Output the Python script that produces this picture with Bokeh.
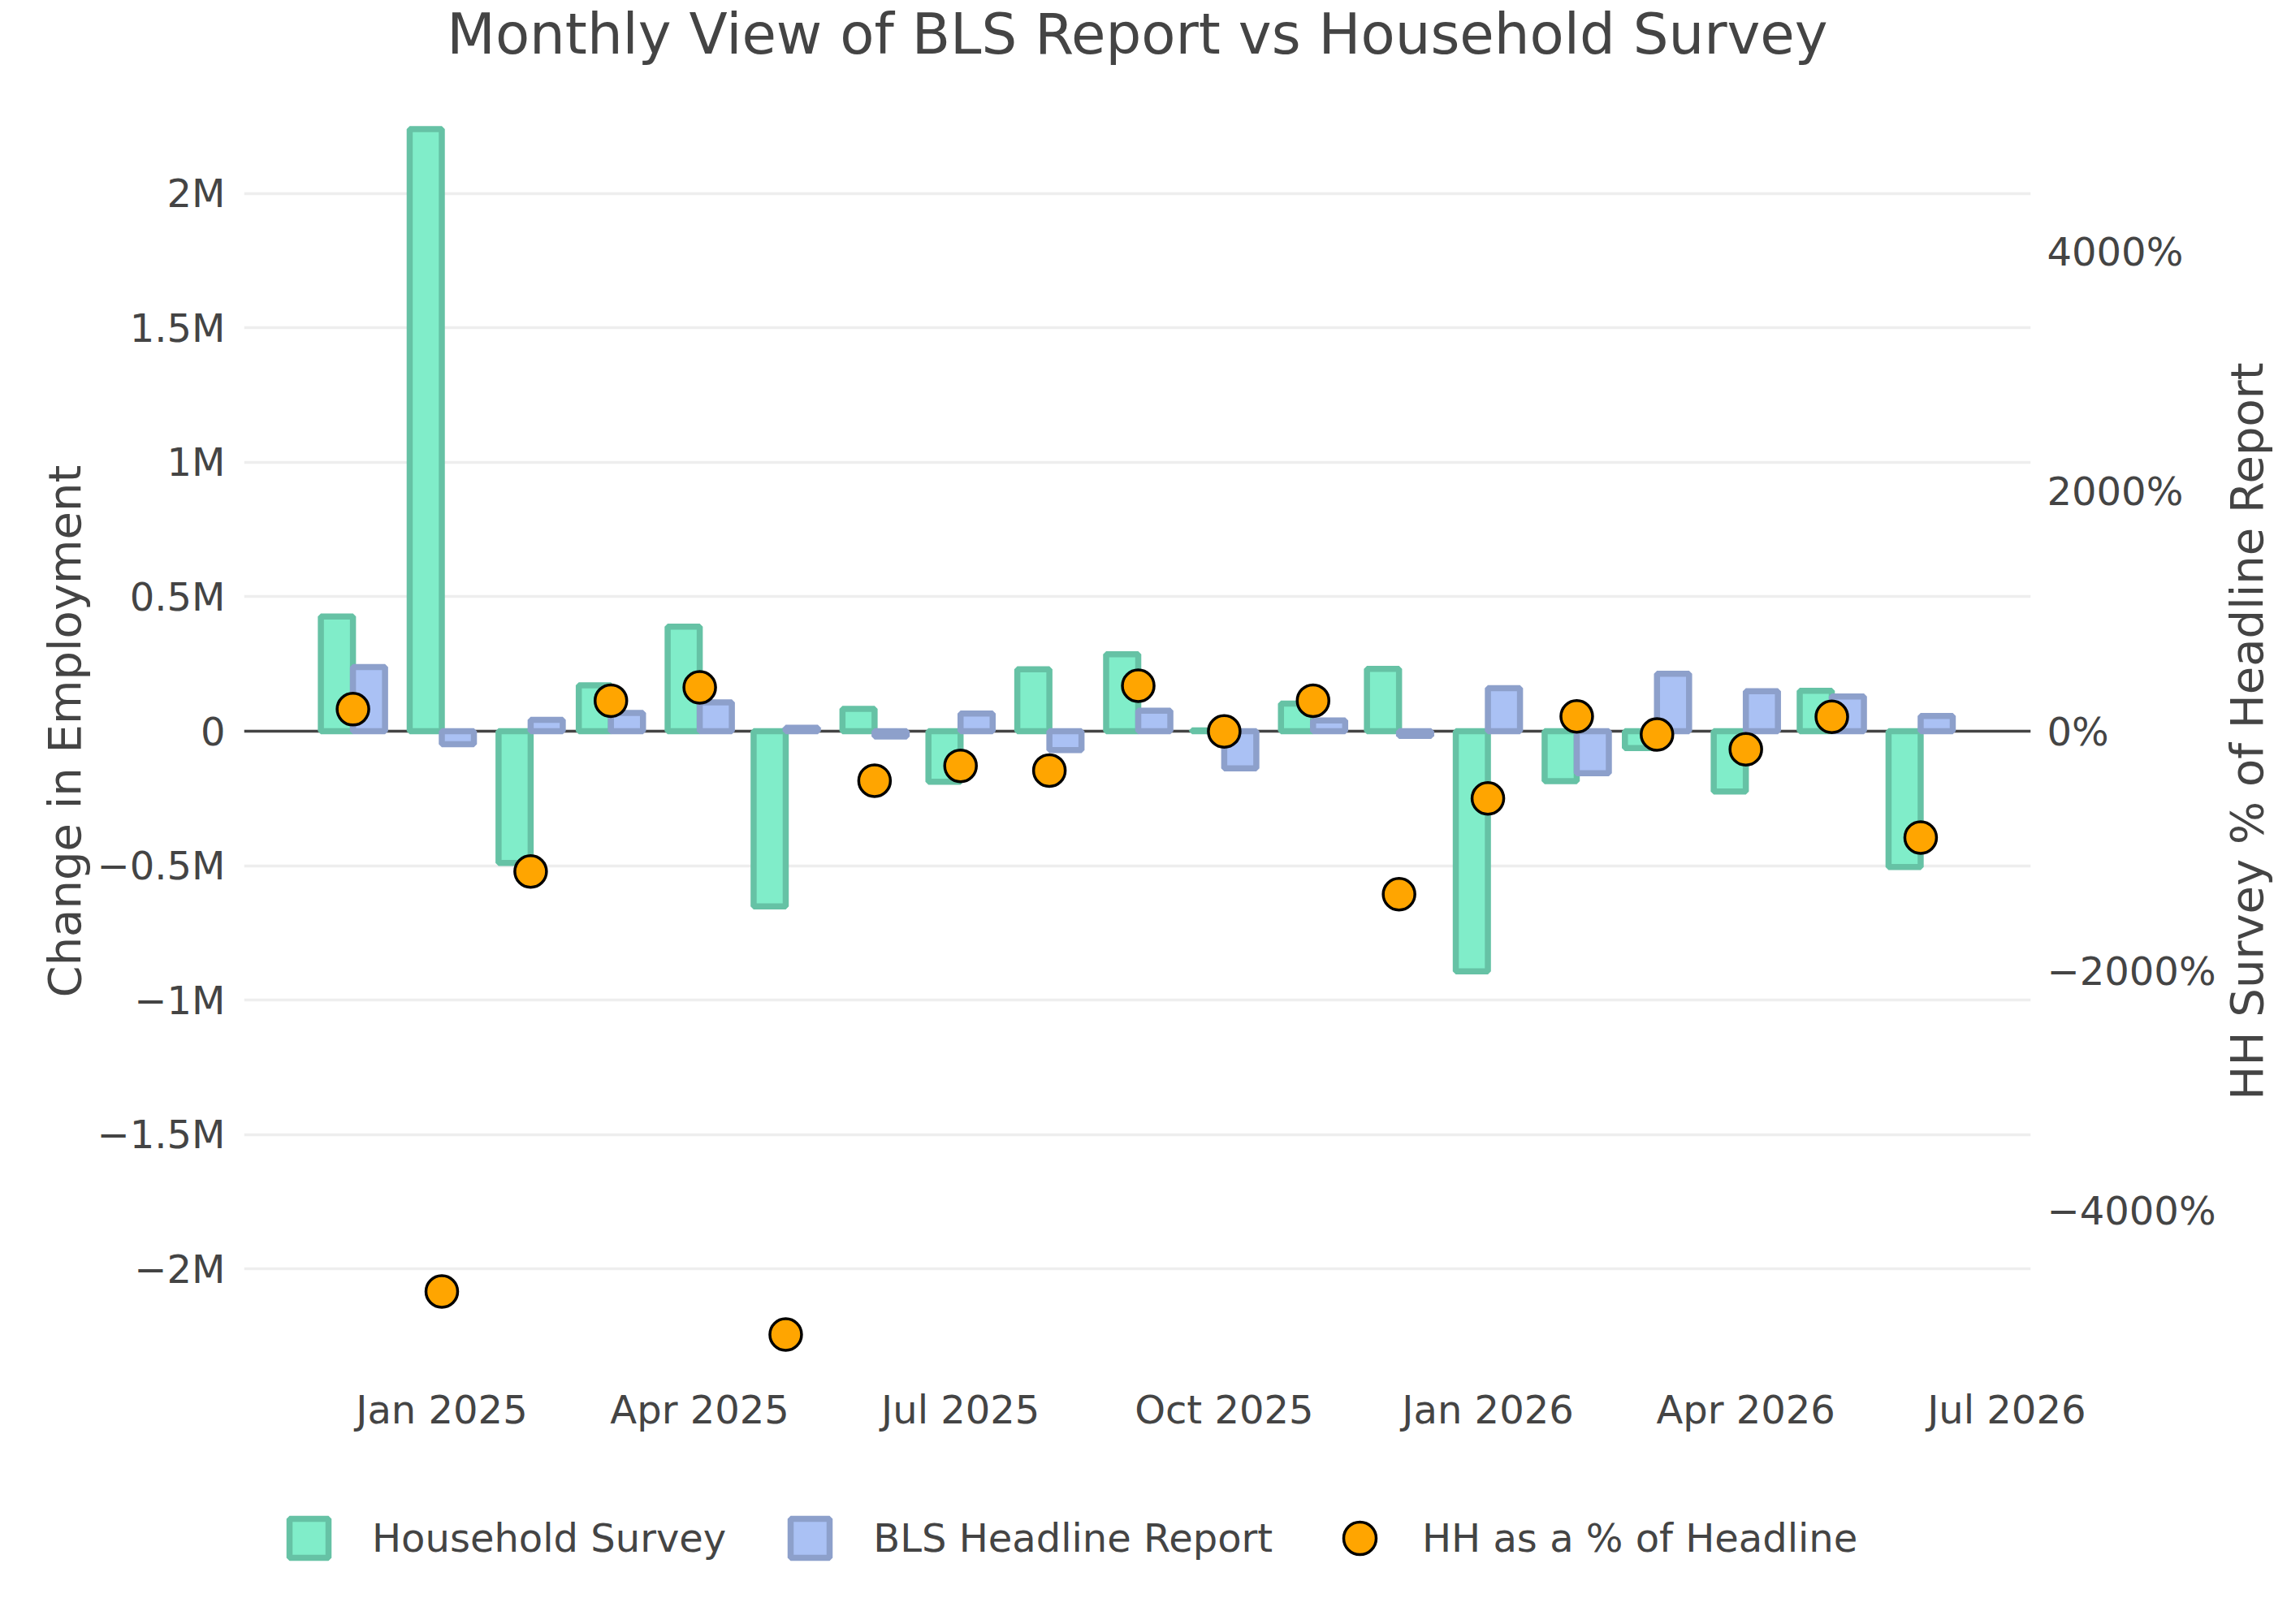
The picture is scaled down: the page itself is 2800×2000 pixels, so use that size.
import math
from datetime import datetime
import pandas as pd
from bokeh.plotting import figure
from bokeh.layouts import column
from bokeh.models import (ColumnDataSource, Range1d, LinearAxis, FixedTicker,
                          DatetimeTickFormatter, Span, Legend, LegendItem, Label)
from bokeh.transform import dodge
from bokeh.embed import file_html
from bokeh.resources import INLINE

# ---------------- data ----------------
months = ["2024-12-01", "2025-01-01", "2025-02-01", "2025-03-01", "2025-04-01",
          "2025-05-01", "2025-06-01", "2025-07-01", "2025-08-01", "2025-09-01",
          "2025-10-01", "2025-11-01", "2025-12-01", "2026-01-01", "2026-02-01",
          "2026-03-01", "2026-04-01", "2026-05-01", "2026-06-01"]
household = [427000, 2240000, -490000, 171000, 389000,
             -652000, 83000, -188000, 230000, 286000,
             3000, 103000, 232000, -893000, -186000,
             -63000, -224000, 150000, -505000]
bls_headline = [239000, -48000, 42000, 68000, 107000,
                13000, -20000, 66000, -70000, 76000,
                -138000, 40000, -17000, 160000, -156000,
                214000, 149000, 129000, 57000]
hh_pct_of_headline = [184, -4678, -1171, 255, 366,
                      -5037, -413, -289, -328, 380,
                      -2, 255, -1361, -561, 124,
                      -27, -151, 120, -888]

x_tick_dates = ["2025-01-01", "2025-04-01", "2025-07-01", "2025-10-01",
                "2026-01-01", "2026-04-01", "2026-07-01"]
left_tick_values = [-2000000, -1500000, -1000000, -500000, 0,
                    500000, 1000000, 1500000, 2000000]
left_tick_labels = ["\u22122M", "\u22121.5M", "\u22121M", "\u22120.5M", "0",
                    "0.5M", "1M", "1.5M", "2M"]
right_tick_values = [-4000, -2000, 0, 2000, 4000]
right_tick_labels = ["\u22124000%", "\u22122000%", "0%", "2000%", "4000%"]

title_text = "Monthly View of BLS Report vs Household Survey"
left_title = "Change in Employment"
right_title = "HH Survey % of Headline Report"
series_names = ["Household Survey", "BLS Headline Report", "HH as a % of Headline"]

# ---------------- styling ----------------
FONT = "DejaVu Sans"
TXT = "#444444"
DAY = 86400000.0
bar_w = 11.2 * DAY
HH_STYLE = dict(fill_color="#80EDC9", line_color="#66C2A5", line_width=7.5)
BLS_STYLE = dict(fill_color="#AAC1F4", line_color="#8DA0CB", line_width=7.5)
PCT_STYLE = dict(marker="circle", fill_color="orange", line_color="black", line_width=3.5)
X_START, X_END = datetime(2024, 10, 24), datetime(2026, 7, 9, 10)

src = ColumnDataSource(dict(month=pd.to_datetime(months), household=household,
                            bls=bls_headline, pct=hh_pct_of_headline))

p = figure(x_axis_type="datetime", frame_width=2200, frame_height=1558,
           output_backend="svg", toolbar_location=None,
           x_range=Range1d(X_START, X_END),
           y_range=Range1d(-2.353e6, 2.353e6),
           min_border_left=300, min_border_top=121, min_border_bottom=160,
           min_border_right=300, outline_line_color=None,
           background_fill_color="white", border_fill_color="white")
p.extra_y_ranges = {"pct": Range1d(-5281, 5281)}

# grid
p.xgrid.visible = False
p.ygrid.ticker = FixedTicker(ticks=left_tick_values)
p.ygrid.grid_line_color = "#EEEEEE"
p.ygrid.grid_line_width = 3.5

zero = Span(location=0, dimension="width", line_color=TXT, line_width=3.5, level="underlay")
p.add_layout(zero)

def style_axis(ax):
    ax.axis_line_color = None
    ax.major_tick_line_color = None
    ax.minor_tick_line_color = None
    ax.major_tick_out = 0
    ax.major_tick_in = 0
    ax.major_label_text_font = FONT
    ax.major_label_text_font_size = "48px"
    ax.major_label_text_color = TXT
    ax.axis_label_text_font = FONT
    ax.axis_label_text_font_size = "56px"
    ax.axis_label_text_font_style = "normal"
    ax.axis_label_text_color = TXT

# x axis
xa = p.xaxis[0]
style_axis(xa)
xa.ticker = FixedTicker(ticks=[pd.Timestamp(d).value / 1e6 for d in x_tick_dates])
fmt = "%b %Y"
xa.formatter = DatetimeTickFormatter(microseconds=fmt, milliseconds=fmt, seconds=fmt,
                                     minsec=fmt, minutes=fmt, hourmin=fmt, hours=fmt,
                                     days=fmt, months=fmt, years=fmt)
xa.major_label_standoff = 28

# left y axis
ya = p.yaxis[0]
style_axis(ya)
ya.ticker = FixedTicker(ticks=left_tick_values)
ya.major_label_overrides = {v: s for v, s in zip(left_tick_values, left_tick_labels)}
ya.axis_label = left_title
ya.major_label_standoff = 23
ya.axis_label_standoff = 5

# right y axis (ticks only; its title is a rotated label in the right panel)
ra = LinearAxis(y_range_name="pct", ticker=FixedTicker(ticks=right_tick_values))
style_axis(ra)
ra.major_label_overrides = {v: s for v, s in zip(right_tick_values, right_tick_labels)}
ra.major_label_standoff = 20
p.add_layout(ra, "right")

rt = Label(x=34.5, y=779, x_units="screen", y_units="screen", text=right_title,
           angle=math.pi / 2, text_align="center", text_baseline="middle",
           text_font=FONT, text_font_size="56px", text_color=TXT)
p.add_layout(rt, "right")

tt = Label(x=1100, y=80, x_units="screen", y_units="screen", text=title_text,
           text_align="center", text_baseline="middle",
           text_font=FONT, text_font_size="69px", text_color=TXT)
p.add_layout(tt, "above")

# glyphs
p.vbar(x=dodge("month", -5.6 * DAY), top="household", bottom=0, width=bar_w,
       source=src, **HH_STYLE)
p.vbar(x=dodge("month", 5.6 * DAY), top="bls", bottom=0, width=bar_w,
       source=src, **BLS_STYLE)
p.scatter(x="month", y="pct", y_range_name="pct", source=src, size=39, **PCT_STYLE)

# ---------------- legend strip below the chart ----------------
# legend-only proxy renderers (an empty NaN point, so nothing is drawn in the strip)
proxy = ColumnDataSource(dict(x=[float("nan")], y=[float("nan")]))
leg_fig = figure(width=2800, height=161, output_backend="svg", toolbar_location=None,
                 x_range=Range1d(0, 1), y_range=Range1d(0, 1),
                 x_axis_location=None, y_axis_location=None,
                 min_border_left=300, min_border_right=300, min_border_top=0,
                 min_border_bottom=0, outline_line_color=None,
                 background_fill_color="white", border_fill_color="white")
leg_fig.xgrid.visible = False
leg_fig.ygrid.visible = False
l_hh = leg_fig.vbar(x="x", top="y", bottom=0, width=0.1, source=proxy, **HH_STYLE)
l_bls = leg_fig.vbar(x="x", top="y", bottom=0, width=0.1, source=proxy, **BLS_STYLE)
l_pct = leg_fig.scatter(x="x", y="y", source=proxy, size=39, **PCT_STYLE)

def make_legend(items, loc, glyph, standoff):
    return Legend(items=items, orientation="horizontal", location=loc,
                  glyph_width=glyph, glyph_height=glyph, label_standoff=standoff,
                  spacing=73, padding=0, margin=0, border_line_color=None,
                  background_fill_alpha=0, label_text_font=FONT,
                  label_text_font_size="48px", label_text_color=TXT)

legA = make_legend([LegendItem(label=series_names[0], renderers=[l_hh]),
                    LegendItem(label=series_names[1], renderers=[l_bls])],
                   (50, 76), 60, 48)
legB = make_legend([LegendItem(label=series_names[2], renderers=[l_pct])],
                   (1324, 56), 100, 27)
leg_fig.add_layout(legA, "center")
leg_fig.add_layout(legB, "center")

layout = column(p, leg_fig, spacing=0)
open("out.html", "w").write(file_html(layout, INLINE))
